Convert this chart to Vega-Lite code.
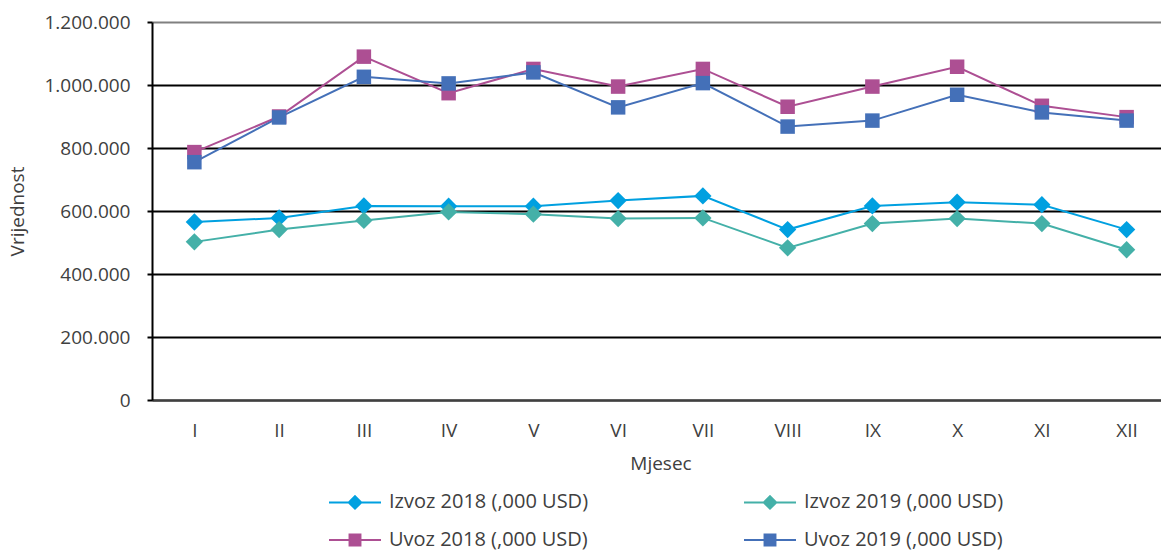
{
  "$schema": "https://vega.github.io/schema/vega-lite/v6.json",
  "width": 1017,
  "height": 378,
  "autosize": "none",
  "padding": {"left": 152, "top": 22, "right": 0, "bottom": 154},
  "background": "white",
  "config": {
    "locale": {"number": {"decimal": ",", "thousands": ".", "grouping": [3], "currency": ["", ""]}},
    "view": {"stroke": null},
    "font": "Open Sans",
    "axis": {"labelFont": "Open Sans", "titleFont": "Open Sans", "labelColor": "#404040", "titleColor": "#404040", "labelFontSize": 19, "titleFontSize": 19, "titleFontWeight": "normal"},
    "legend": {"labelFont": "Open Sans", "labelFontSize": 20, "labelColor": "#404040", "labelLimit": 400}
  },
  "data": {"values": [
    {"m": "I", "s": "Izvoz 2018 (,000 USD)", "v": 565000},
    {"m": "II", "s": "Izvoz 2018 (,000 USD)", "v": 578000},
    {"m": "III", "s": "Izvoz 2018 (,000 USD)", "v": 616000},
    {"m": "IV", "s": "Izvoz 2018 (,000 USD)", "v": 615000},
    {"m": "V", "s": "Izvoz 2018 (,000 USD)", "v": 615000},
    {"m": "VI", "s": "Izvoz 2018 (,000 USD)", "v": 633000},
    {"m": "VII", "s": "Izvoz 2018 (,000 USD)", "v": 648000},
    {"m": "VIII", "s": "Izvoz 2018 (,000 USD)", "v": 541000},
    {"m": "IX", "s": "Izvoz 2018 (,000 USD)", "v": 616000},
    {"m": "X", "s": "Izvoz 2018 (,000 USD)", "v": 628000},
    {"m": "XI", "s": "Izvoz 2018 (,000 USD)", "v": 620000},
    {"m": "XII", "s": "Izvoz 2018 (,000 USD)", "v": 541000},
    {"m": "I", "s": "Izvoz 2019 (,000 USD)", "v": 502000},
    {"m": "II", "s": "Izvoz 2019 (,000 USD)", "v": 541000},
    {"m": "III", "s": "Izvoz 2019 (,000 USD)", "v": 570000},
    {"m": "IV", "s": "Izvoz 2019 (,000 USD)", "v": 597000},
    {"m": "V", "s": "Izvoz 2019 (,000 USD)", "v": 590000},
    {"m": "VI", "s": "Izvoz 2019 (,000 USD)", "v": 576000},
    {"m": "VII", "s": "Izvoz 2019 (,000 USD)", "v": 578000},
    {"m": "VIII", "s": "Izvoz 2019 (,000 USD)", "v": 483000},
    {"m": "IX", "s": "Izvoz 2019 (,000 USD)", "v": 560000},
    {"m": "X", "s": "Izvoz 2019 (,000 USD)", "v": 576000},
    {"m": "XI", "s": "Izvoz 2019 (,000 USD)", "v": 560000},
    {"m": "XII", "s": "Izvoz 2019 (,000 USD)", "v": 477000},
    {"m": "I", "s": "Uvoz 2018 (,000 USD)", "v": 787000},
    {"m": "II", "s": "Uvoz 2018 (,000 USD)", "v": 900000},
    {"m": "III", "s": "Uvoz 2018 (,000 USD)", "v": 1090000},
    {"m": "IV", "s": "Uvoz 2018 (,000 USD)", "v": 974000},
    {"m": "V", "s": "Uvoz 2018 (,000 USD)", "v": 1051000},
    {"m": "VI", "s": "Uvoz 2018 (,000 USD)", "v": 995000},
    {"m": "VII", "s": "Uvoz 2018 (,000 USD)", "v": 1051000},
    {"m": "VIII", "s": "Uvoz 2018 (,000 USD)", "v": 931000},
    {"m": "IX", "s": "Uvoz 2018 (,000 USD)", "v": 995000},
    {"m": "X", "s": "Uvoz 2018 (,000 USD)", "v": 1058000},
    {"m": "XI", "s": "Uvoz 2018 (,000 USD)", "v": 934000},
    {"m": "XII", "s": "Uvoz 2018 (,000 USD)", "v": 898000},
    {"m": "I", "s": "Uvoz 2019 (,000 USD)", "v": 755000},
    {"m": "II", "s": "Uvoz 2019 (,000 USD)", "v": 897000},
    {"m": "III", "s": "Uvoz 2019 (,000 USD)", "v": 1026000},
    {"m": "IV", "s": "Uvoz 2019 (,000 USD)", "v": 1005000},
    {"m": "V", "s": "Uvoz 2019 (,000 USD)", "v": 1040000},
    {"m": "VI", "s": "Uvoz 2019 (,000 USD)", "v": 929000},
    {"m": "VII", "s": "Uvoz 2019 (,000 USD)", "v": 1006000},
    {"m": "VIII", "s": "Uvoz 2019 (,000 USD)", "v": 868000},
    {"m": "IX", "s": "Uvoz 2019 (,000 USD)", "v": 887000},
    {"m": "X", "s": "Uvoz 2019 (,000 USD)", "v": 969000},
    {"m": "XI", "s": "Uvoz 2019 (,000 USD)", "v": 913000},
    {"m": "XII", "s": "Uvoz 2019 (,000 USD)", "v": 887000}
  ]},
  "encoding": {
    "x": {"field": "m", "type": "ordinal", "sort": null, "title": "Mjesec",
      "scale": {"padding": 0.5},
      "axis": {"labelAngle": 0, "ticks": false, "domainColor": "#404040", "domainWidth": 2, "labelPadding": 21, "titlePadding": 14, "grid": false}},
    "y": {"field": "v", "type": "quantitative", "title": "Vrijednost",
      "scale": {"domain": [0, 1200000], "nice": false},
      "axis": {"values": [0, 200000, 400000, 600000, 800000, 1000000, 1200000], "format": ",d",
        "domainColor": "black", "domainWidth": 2, "tickColor": "black", "tickWidth": 2, "tickSize": 5,
        "labelPadding": 17, "titlePadding": 16,
        "grid": true, "gridWidth": 2,
        "gridColor": {"condition": {"test": "datum.value === 1200000", "value": "#808080"}, "value": "black"}}},
    "color": {"field": "s", "type": "nominal", "title": null,
      "scale": {"domain": ["Izvoz 2018 (,000 USD)", "Izvoz 2019 (,000 USD)", "Uvoz 2018 (,000 USD)", "Uvoz 2019 (,000 USD)"],
        "range": ["#00A0E0", "#44B0A8", "#AD4F93", "#4470B8"]}}
  },
  "layer": [
    {"mark": {"type": "line", "strokeWidth": 2},
     "encoding": {
       "color": {"field": "s", "type": "nominal", "title": null,
         "legend": {"orient": "none", "direction": "horizontal", "legendX": 176, "legendY": 453, "columns": 2, "columnPadding": 151, "rowPadding": -14,
           "labelOffset": 7, "symbolSize": 2704, "symbolStrokeWidth": 2,
           "encode": {"symbols": {"update": {
             "shape": {"signal": "test(/^Uvoz/, datum.value) ? 'M-1,0H1M-0.21,-0.21H0.21V0.21H-0.21Z' : 'M-1,0H1M0,-0.24L0.24,0L0,0.24L-0.24,0Z'"},
             "fill": {"scale": "color", "field": "value"},
             "stroke": {"scale": "color", "field": "value"},
             "strokeWidth": {"value": 2},
             "size": {"value": 2704},
             "fillOpacity": {"value": 1},
             "opacity": {"value": 1}
           }}}}}
     }},
    {"transform": [{"filter": "indexof(datum.s, 'Izvoz') === 0"}],
     "mark": {"type": "point", "filled": true, "opacity": 1, "size": 300, "shape": "diamond"}},
    {"transform": [{"filter": "indexof(datum.s, 'Uvoz') === 0"}],
     "mark": {"type": "point", "filled": true, "opacity": 1, "size": 210, "shape": "square"}}
  ]
}
